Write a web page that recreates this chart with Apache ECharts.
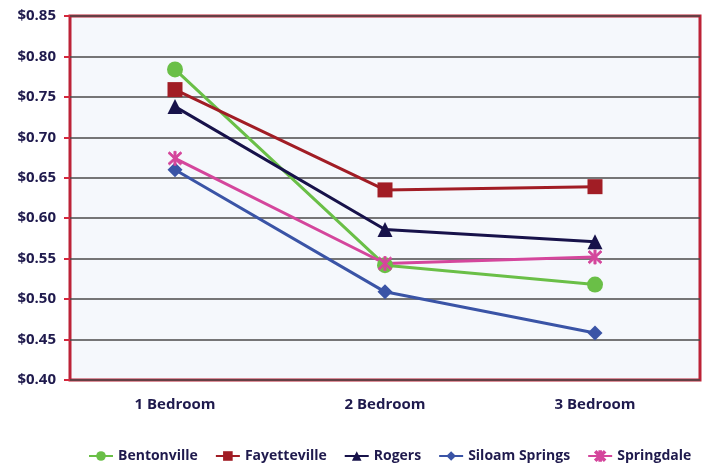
<!DOCTYPE html>
<html>
<head>
<meta charset="utf-8">
<title></title>
<script src="https://cdn.jsdelivr.net/npm/echarts@6/dist/echarts.min.js"></script>
<style>
  html, body { margin: 0; padding: 0; background: #fff; }
  #main { width: 702px; height: 466px; }
</style>
</head>
<body>
<div id="main"></div>
<script>
// categories and values
var categories = ['1 Bedroom', '2 Bedroom', '3 Bedroom'];
var bentonville = [0.784, 0.542, 0.518];
var fayetteville = [0.759, 0.635, 0.639];
var rogers = [0.738, 0.586, 0.571];
var siloamSprings = [0.660, 0.509, 0.458];
var springdale = [0.674, 0.544, 0.552];

var textColor = '#1f1a4d';
var asterisk = 'path://M-0.9,-6L0.9,-6L0.9,6L-0.9,6Z' +
  'M-4.36,-5.64L5.64,4.36L4.36,5.64L-5.64,-4.36Z' +
  'M4.36,-5.64L5.64,-4.36L-4.36,5.64L-5.64,4.36Z';

function line(name, data, color, symbol, size) {
  return {
    name: name,
    type: 'line',
    data: data,
    symbol: symbol,
    symbolSize: size,
    lineStyle: { color: color, width: 3 },
    itemStyle: { color: color, borderColor: color, borderWidth: symbol === asterisk ? 0.8 : 0 },
    emphasis: { disabled: true }
  };
}

var chart = echarts.init(document.getElementById('main'));
chart.setOption({
  animation: false,
  grid: {
    left: 70, right: 2, top: 16, bottom: 86,
    show: true,
    backgroundColor: '#f5f8fc',
    borderColor: '#bc2237',
    borderWidth: 3
  },
  legend: {
    bottom: 3,
    left: 88,
    width: 614,
    padding: 0,
    itemWidth: 24,
    itemHeight: 12,
    itemGap: 17,
    textStyle: { color: textColor, fontWeight: 'bold', fontSize: 14, fontFamily: 'Open Sans' },
    data: ['Bentonville', 'Fayetteville', 'Rogers', 'Siloam Springs', 'Springdale']
  },
  xAxis: {
    type: 'category',
    data: categories,
    axisLine: { show: false },
    axisTick: { show: false },
    axisLabel: { color: textColor, fontWeight: 'bold', fontSize: 15, margin: 17, fontFamily: 'Open Sans' }
  },
  yAxis: {
    type: 'value',
    min: 0.40,
    max: 0.85,
    interval: 0.05,
    axisLine: { show: false },
    axisTick: { show: true, length: 6, lineStyle: { color: '#d4283c', width: 2 } },
    splitLine: { lineStyle: { color: '#4a4a4a', width: 1.5 } },
    axisLabel: {
      color: textColor, fontWeight: 'bold', fontSize: 15, margin: 14, fontFamily: 'Open Sans',
      formatter: function (v) { return '$' + v.toFixed(2); }
    }
  },
  series: [
    line('Bentonville', bentonville, '#6abf47', 'circle', 16),
    line('Fayetteville', fayetteville, '#a11d25', 'rect', 15),
    line('Rogers', rogers, '#17124a', 'triangle', 15),
    line('Siloam Springs', siloamSprings, '#3a54a6', 'diamond', 15),
    line('Springdale', springdale, '#d4469c', asterisk, 14)
  ]
});
</script>
</body>
</html>
